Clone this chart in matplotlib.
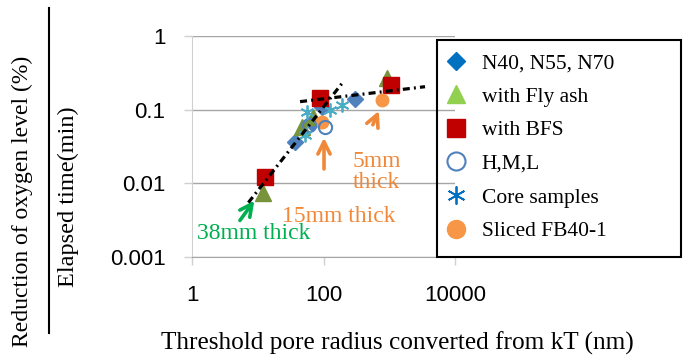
import matplotlib
matplotlib.use("Agg")
import matplotlib.pyplot as plt
from matplotlib.lines import Line2D
from matplotlib.patches import Rectangle

# series (x: pore radius nm, y: reduction ratio)
n_x = [36.9, 66, 94, 301]
n_y = [0.0367, 0.066, 0.109, 0.138]
fly_x = [12.1, 46.6, 70, 914]
fly_y = [0.00736, 0.0586, 0.080, 0.265]
bfs_x = [12.9, 88.5, 1052]
bfs_y = [0.0123, 0.142, 0.215]
hml_x = [60, 105]
hml_y = [0.062, 0.0586]
core_x = [52, 55.5, 126, 189]
core_y = [0.0453, 0.0936, 0.0987, 0.115]
sliced_x = [94, 768]
sliced_y = [0.0685, 0.135]

# dash-dot trend lines
trend1_x = [7.2, 200]
trend1_y = [0.0055, 0.238]
trend2_x = [44, 3500]
trend2_y = [0.128, 0.204]

xticks = [1, 100, 10000]
yticks = [0.001, 0.01, 0.1, 1]

serif = "Liberation Serif"
sans = "Liberation Sans"
W, H = 688, 360

fig = plt.figure(figsize=(6.88, 3.6), dpi=100)
ax = fig.add_axes([192 / W, 1 - 257.3 / H, 263 / W, 221.6 / H])

ax.plot(n_x, n_y, 'D', ms=8.5, color='#4F81BD', mec='#4F81BD', zorder=3)
ax.plot(fly_x, fly_y, '^', ms=11.5, color='#77933C', mec='#77933C', zorder=3)
ax.plot(bfs_x, bfs_y, 's', ms=11.5, color='#C00000', mec='#C00000', zorder=3)
ax.plot(hml_x, hml_y, 'o', ms=9.5, mfc='none', mec='#4F81BD', mew=1.5, zorder=4)
ax.plot(core_x, core_y, marker=(6, 2, 0), ls='none', ms=10, color='#4BACC6', mew=1.3, zorder=4)
ax.plot(sliced_x, sliced_y, 'o', ms=9, color='#F79646', mec='#F79646', zorder=3)

dash = (0, (2.2, 1.3, 0.6, 1.3))
ax.plot(trend1_x, trend1_y, color='black', lw=2.3, ls=dash, zorder=5)
ax.plot(trend2_x, trend2_y, color='black', lw=2.3, ls=dash, zorder=5)

ax.set_xscale('log')
ax.set_yscale('log')
ax.set_xlim(1, 10000)
ax.set_ylim(0.001, 1)
ax.set_xticks(xticks)
ax.set_xticklabels([str(v) for v in xticks])
ax.set_yticks(yticks)
ax.set_yticklabels(['0.001', '0.01', '0.1', '1'])
ax.minorticks_off()
for lab in ax.get_xticklabels() + ax.get_yticklabels():
    lab.set_fontfamily(sans)
    lab.set_fontsize(16)
ax.tick_params(axis='both', length=6, width=1, color='#d0d0d0', labelcolor='black')
ax.tick_params(axis='y', pad=13)
ax.tick_params(axis='x', pad=14)

ax.grid(axis='y', color='#a6a6a6', lw=1)
ax.set_axisbelow(True)
for s in ['top', 'right']:
    ax.spines[s].set_visible(False)
ax.spines['left'].set_color('#d0d0d0')
ax.spines['bottom'].set_color('#a6a6a6')

# annotations
green = '#00B050'
orange = '#F0883A'
arrow_kw = dict(arrowstyle='->', lw=2.6, mutation_scale=22)
ax.annotate('', xy=(9.4, 0.0063), xytext=(5.06, 0.00294),
            arrowprops=dict(color=green, **arrow_kw))
ax.text(1.18, 0.00213, '38mm thick', color=green, fontsize=17, family=serif, va='center', ha='left')
ax.annotate('', xy=(101.8, 0.0453), xytext=(101.8, 0.0144),
            arrowprops=dict(color=orange, **arrow_kw))
ax.text(23.1, 0.00355, '15mm thick', color=orange, fontsize=17, family=serif, va='center', ha='left')
ax.annotate('', xy=(723, 0.104), xytext=(541, 0.0575),
            arrowprops=dict(color=orange, **arrow_kw))
ax.text(278, 0.0145, '5mm\nthick', color=orange, fontsize=17, family=serif, va='center', ha='left',
        linespacing=1.0)

# legend
handles = [
    Line2D([], [], ls='none', marker='D', ms=9.5, color='#0070C0'),
    Line2D([], [], ls='none', marker='^', ms=13, color='#92D050'),
    Line2D([], [], ls='none', marker='s', ms=13, color='#C00000'),
    Line2D([], [], ls='none', marker='o', ms=13, mfc='none', mec='#4F81BD', mew=1.5),
    Line2D([], [], ls='none', marker=(6, 2, 0), ms=13, color='#0070C0', mew=1.3),
    Line2D([], [], ls='none', marker='o', ms=13, color='#F79646'),
]
labels = ['N40, N55, N70', 'with Fly ash', 'with BFS', 'H,M,L', 'Core samples', 'Sliced FB40-1']
fig.legend(handles, labels, loc='upper left', bbox_to_anchor=(445 / W, 1 - 53 / H),
           frameon=False, prop={'family': serif, 'size': 15.5}, handlelength=1.0,
           handletextpad=0.7, labelspacing=0.63, borderaxespad=0, borderpad=0)
fig.patches.append(Rectangle((437 / W, 1 - 257 / H), 244 / W, 217 / H, transform=fig.transFigure,
                             fill=False, edgecolor='black', lw=1.5))

# axis titles
fig.text(22 / W, 1 - 201 / H, 'Reduction of oxygen level (%)', rotation=90, family=serif,
         fontsize=17, ha='center', va='center')
fig.add_artist(Line2D([49 / W, 49 / W], [1 - 8 / H, 1 - 333 / H], transform=fig.transFigure,
                      color='black', lw=1.5))
fig.text(68 / W, 1 - 197 / H, 'Elapsed time(min)', rotation=90, family=serif,
         fontsize=17.5, ha='center', va='center')
fig.text(397 / W, 1 - 343 / H, 'Threshold pore radius converted from kT (nm)', family=serif,
         fontsize=18.2, ha='center', va='center')

fig.savefig('out.png', dpi=100)
